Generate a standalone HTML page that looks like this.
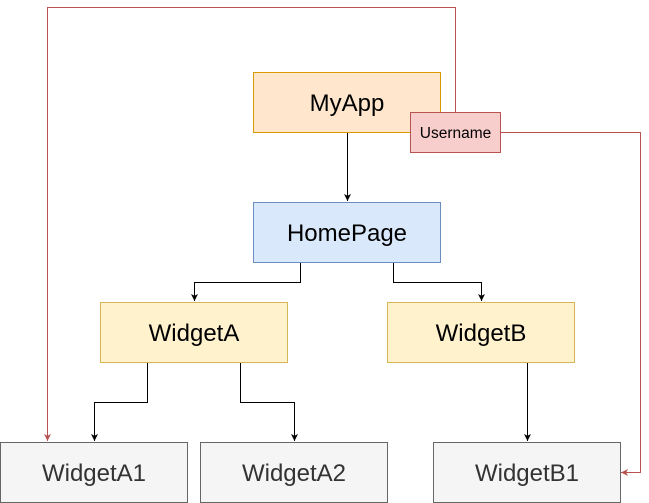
<!DOCTYPE html>
<html><head><meta charset="utf-8"><style>
html,body{margin:0;padding:0;background:#fff;}
svg{display:block;}
text{font-family:"Liberation Sans",Helvetica,Arial,sans-serif;}
</style></head><body>
<svg width="649" height="503" viewBox="0 0 649 503" xmlns="http://www.w3.org/2000/svg">
<defs>
<marker id="ab" markerWidth="8" markerHeight="8" refX="7" refY="4" orient="auto" markerUnits="userSpaceOnUse">
<path d="M0,0.5 L7,4 L0,7.5 L1.8,4 Z" fill="#000"/></marker>
<marker id="ar" markerWidth="8" markerHeight="8" refX="7" refY="4" orient="auto" markerUnits="userSpaceOnUse">
<path d="M0,0.5 L7,4 L0,7.5 L1.8,4 Z" fill="#b85450"/></marker>
</defs>
<g fill="none" stroke-width="1">
<path d="M455.5,112.5 V7.5 H47.5 V441" stroke="#b85450" marker-end="url(#ar)"/>
<path d="M500.5,132.5 H640.5 V472.5 H621" stroke="#b85450" marker-end="url(#ar)"/>
<path d="M347.5,132.5 V201" stroke="#000" marker-end="url(#ab)"/>
<path d="M300.5,262.5 V282.5 H194.5 V301" stroke="#000" marker-end="url(#ab)"/>
<path d="M393.5,262.5 V282.5 H481.5 V301" stroke="#000" marker-end="url(#ab)"/>
<path d="M147.5,362.5 V402.5 H94.5 V441" stroke="#000" marker-end="url(#ab)"/>
<path d="M240.5,362.5 V402.5 H294.5 V441" stroke="#000" marker-end="url(#ab)"/>
<path d="M527.5,362.5 V441" stroke="#000" marker-end="url(#ab)"/>
</g>
<rect x="253.5" y="72.5" width="187" height="60" fill="#ffe6cc" stroke="#d79b00"/>
<text x="347" y="111" font-size="24" text-anchor="middle" fill="#000">MyApp</text>
<rect x="410.5" y="112.5" width="90" height="40" fill="#f8cecc" stroke="#b85450"/>
<text x="455.5" y="138" font-size="15.5" text-anchor="middle" fill="#000">Username</text>
<rect x="253.5" y="202.5" width="187" height="60" fill="#dae8fc" stroke="#6c8ebf"/>
<text x="347" y="241" font-size="24" text-anchor="middle" fill="#000">HomePage</text>
<rect x="100.5" y="302.5" width="187" height="60" fill="#fff2cc" stroke="#d6b656"/>
<text x="194" y="341" font-size="24" text-anchor="middle" fill="#000">WidgetA</text>
<rect x="387.5" y="302.5" width="187" height="60" fill="#fff2cc" stroke="#d6b656"/>
<text x="481" y="341" font-size="24" text-anchor="middle" fill="#000">WidgetB</text>
<rect x="0.5" y="442.5" width="187" height="60" fill="#f5f5f5" stroke="#666"/>
<text x="94" y="481" font-size="24" text-anchor="middle" fill="#333">WidgetA1</text>
<rect x="200.5" y="442.5" width="187" height="60" fill="#f5f5f5" stroke="#666"/>
<text x="294" y="481" font-size="24" text-anchor="middle" fill="#333">WidgetA2</text>
<rect x="433.5" y="442.5" width="187" height="60" fill="#f5f5f5" stroke="#666"/>
<text x="527" y="481" font-size="24" text-anchor="middle" fill="#333">WidgetB1</text>
</svg>
</body></html>
